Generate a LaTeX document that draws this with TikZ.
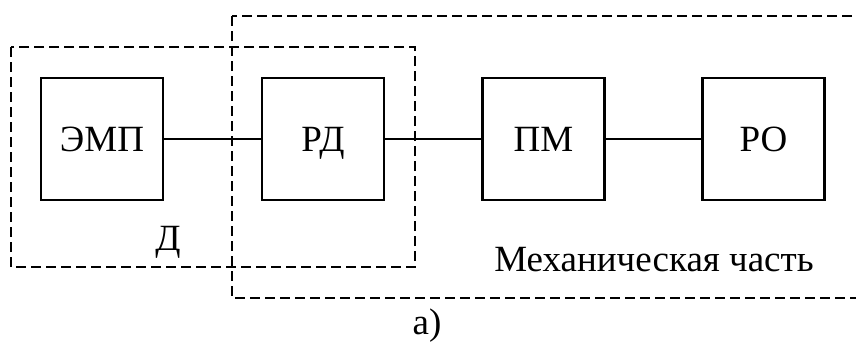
\documentclass[tikz,border=0pt]{standalone}
\usepackage{fontspec}
\setmainfont{Liberation Serif}
\begin{document}
\begin{tikzpicture}[x=1pt,y=-1pt,
  block/.style={draw, line width=2.6pt, minimum width=122pt, minimum height=122pt, inner sep=0pt,
    text height=25pt, text depth=0pt, font=\fontsize{37}{40}\selectfont},
  group/.style={draw, line width=1.8pt, dash pattern=on 10pt off 5pt},
  label/.style={inner sep=0pt, anchor=base, font=\fontsize{37}{40}\selectfont},
  link/.style={line width=2.4pt}]
  \clip (0,0) rectangle (856,346);
  \useasboundingbox (0,0) rectangle (856,346);
  % functional blocks
  \node[block] (emp) at (102,139) {ЭМП};
  \node[block] (rd)  at (323,139) {РД};
  \node[block] (pm)  at (543.5,139) {ПМ};
  \node[block] (ro)  at (763.5,139) {РО};
  % links between blocks
  \draw[link] (emp) -- (rd);
  \draw[link] (rd) -- (pm);
  \draw[link] (pm) -- (ro);
  % dashed groups
  \draw[group] (11,47) rectangle (415,267);
  \draw[group] (232,16) rectangle (875,298);
  % captions
  \node[label] (d) at (168,250) {Д};
  \node[label] (mech) at (654,271) {Механическая часть};
  \node[label] (cap) at (427,334) {а)};
\end{tikzpicture}
\end{document}
